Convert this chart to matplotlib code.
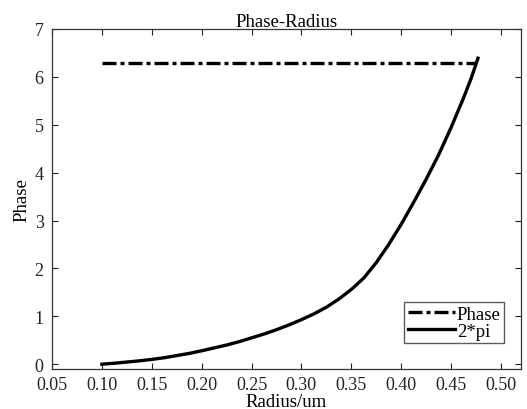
import numpy as np
import matplotlib.pyplot as plt

plt.rcParams['font.family'] = ['Liberation Serif', 'DejaVu Serif']

# Phase versus pillar radius
radius = [0.1000, 0.1125, 0.1250, 0.1375, 0.1500, 0.1625, 0.1750, 0.1875,
          0.2000, 0.2125, 0.2250, 0.2375, 0.2500, 0.2625, 0.2750, 0.2875,
          0.3000, 0.3125, 0.3250, 0.3375, 0.3500, 0.3625, 0.3750, 0.3875,
          0.4000, 0.4125, 0.4250, 0.4375, 0.4500, 0.4625, 0.4700, 0.4770]
phase = [0.00, 0.02, 0.045, 0.07, 0.10, 0.135, 0.18, 0.225,
         0.28, 0.34, 0.40, 0.47, 0.55, 0.63, 0.72, 0.82,
         0.93, 1.05, 1.19, 1.36, 1.56, 1.80, 2.12, 2.50,
         2.92, 3.38, 3.86, 4.37, 4.94, 5.56, 5.96, 6.39]

# 2*pi reference level
ref_r = [0.10, 0.475]
ref_phase = [2 * np.pi, 2 * np.pi]

xticks = [0.05, 0.10, 0.15, 0.20, 0.25, 0.30, 0.35, 0.40, 0.45, 0.50]
yticks = [0, 1, 2, 3, 4, 5, 6, 7]

fig = plt.figure(figsize=(5.27, 4.10), dpi=100)
ax = fig.add_axes([0.0987, 0.0976, 0.8897, 0.8293])

ax.plot(ref_r, ref_phase, color='black', linestyle='-.', linewidth=2.4,
        dashes=(4.2, 1.2, 1.2, 1.2), label='Phase')
ax.plot(radius, phase, color='black', linestyle='-', linewidth=2.4, label='2*pi')

ax.set_xlim(0.05, 0.52)
ax.set_ylim(-0.1, 7)
ax.set_xticks(xticks)
ax.set_xticklabels(['%.2f' % t for t in xticks])
ax.set_yticks(yticks)

ax.tick_params(direction='in', length=4, width=0.8, top=True, right=True,
               labelsize=13, colors='#222222')
ax.tick_params(axis='x', pad=5)
ax.tick_params(axis='y', pad=6)
for s in ax.spines.values():
    s.set_linewidth(0.9)
    s.set_color('#333333')

ax.set_title('Phase-Radius', fontsize=13.5, pad=2)
ax.set_xlabel('Radius/um', fontsize=13.5, labelpad=0)
ax.set_ylabel('Phase', fontsize=13.5, labelpad=3)

leg = ax.legend(loc='lower right', bbox_to_anchor=(0.965, 0.075), fontsize=13.5,
                frameon=True, fancybox=False, edgecolor='#333333',
                handlelength=2.5, handletextpad=0.1, borderpad=0.2,
                labelspacing=0.0, borderaxespad=0)
leg.get_frame().set_linewidth(1.0)

fig.savefig('out.png', dpi=100)
